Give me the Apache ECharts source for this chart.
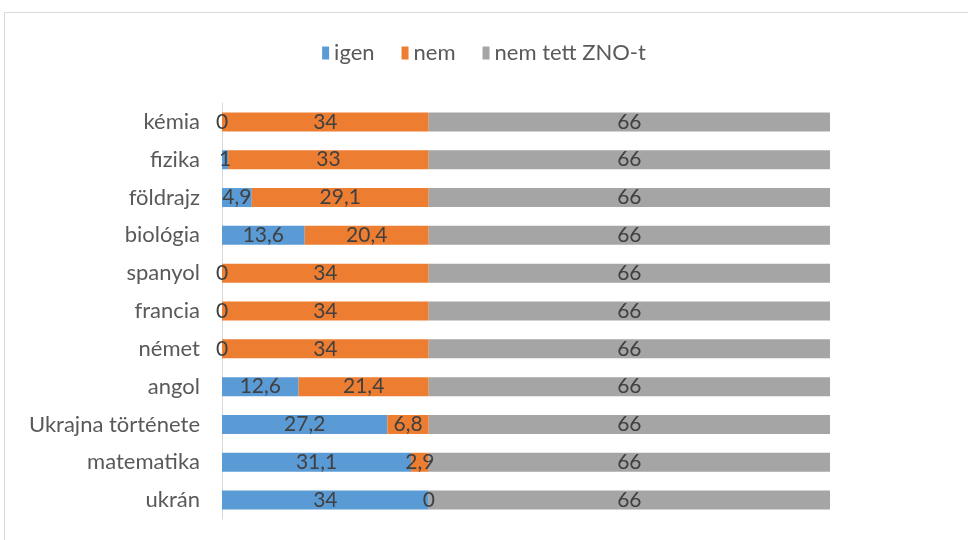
<!DOCTYPE html>
<html>
<head>
<meta charset="utf-8">
<script src="https://cdn.jsdelivr.net/npm/echarts@6/dist/echarts.min.js"></script>
<style>
  html, body { margin: 0; padding: 0; background: #fff; }
  #main { width: 968px; height: 540px; }
</style>
</head>
<body>
<div id="main"></div>
<script>
const categories = ["ukrán", "matematika", "Ukrajna története", "angol", "német", "francia", "spanyol", "biológia", "földrajz", "fizika", "kémia"];
const igen = [34, 31.1, 27.2, 12.6, 0, 0, 0, 13.6, 4.9, 1, 0];
const nem = [0, 2.9, 6.8, 21.4, 34, 34, 34, 20.4, 29.1, 33, 34];
const nemTett = [66, 66, 66, 66, 66, 66, 66, 66, 66, 66, 66];

const fontFam = "Lato, 'Open Sans', sans-serif";
const fmt = (p) => String(p.value).replace(".", ",");

const chart = echarts.init(document.getElementById("main"));

function barSeries(name, data, color) {
    return {
        name: name,
        type: "bar",
        stack: "total",
        data: data,
        barWidth: 19,
        itemStyle: { color: color },
        label: {
            show: true,
            position: "inside",
            formatter: fmt,
            color: "#404040",
            fontSize: 21,
            fontFamily: fontFam,
        },
    };
}

chart.setOption({
    animation: false,
    graphic: [{
        type: "rect",
        shape: { x: 4.5, y: 12.5, width: 1000, height: 600 },
        style: { fill: "none", stroke: "#d9d9d9", lineWidth: 1 },
    }],
    legend: {
        top: 37,
        left: "center",
        itemWidth: 7,
        itemHeight: 13,
        itemGap: 27,
        icon: "rect",
        textStyle: { color: "#595959", fontSize: 22, fontFamily: fontFam },
    },
    grid: { left: 222, right: 138, top: 103, bottom: 21, containLabel: false },
    xAxis: {
        type: "value",
        min: 0,
        max: 100,
        show: false,
    },
    yAxis: {
        type: "category",
        data: categories,
        axisLine: { show: true, lineStyle: { color: "#d9d9d9", width: 1 } },
        axisTick: { show: false },
        axisLabel: { color: "#595959", fontSize: 22, fontFamily: fontFam, margin: 22 },
    },
    series: [
        barSeries("igen", igen, "#5b9bd5"),
        barSeries("nem", nem, "#ed7d31"),
        barSeries("nem tett ZNO-t", nemTett, "#a5a5a5"),
    ],
});
</script>
</body>
</html>
